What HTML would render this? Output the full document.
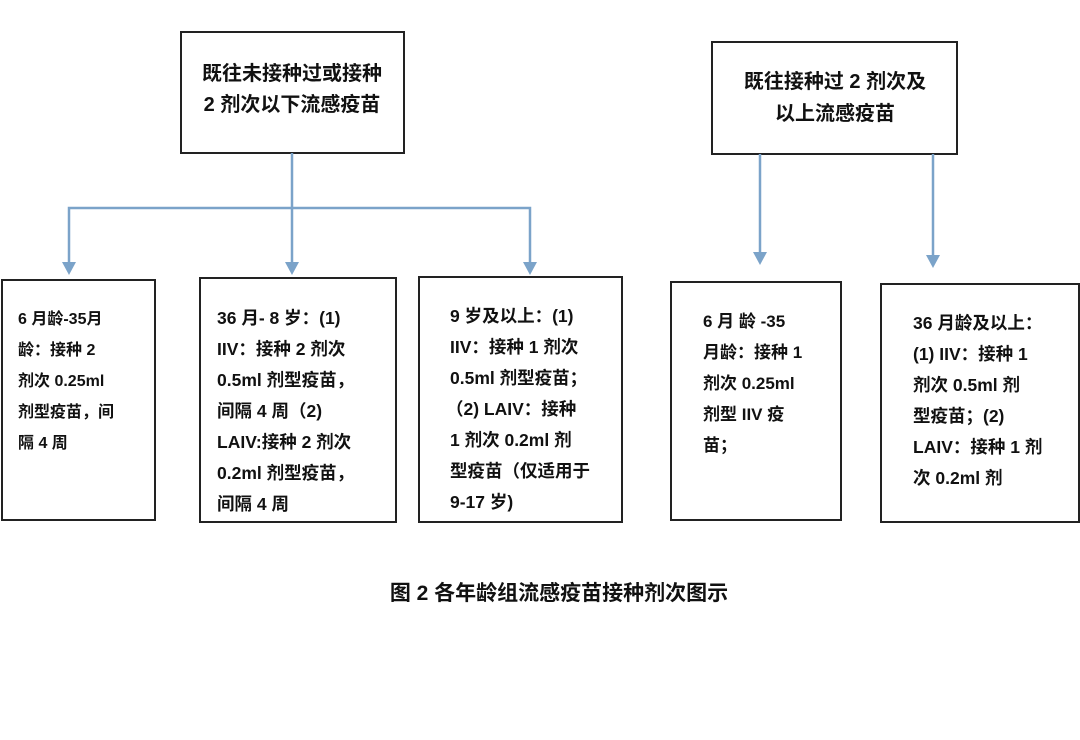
<!DOCTYPE html>
<html><head><meta charset="utf-8"><style>
body{margin:0;background:#fff;}
svg text{font-family:"Liberation Sans","Noto Sans CJK SC",sans-serif;font-weight:bold;font-size:17.5px;fill:#111;}
svg text.s16{font-size:16px;}
svg text.s17{font-size:17px;}
svg text.big{font-size:20px;}
svg text.cap{font-size:21px;}
</style></head><body>
<svg width="1080" height="735" xmlns="http://www.w3.org/2000/svg">
<g fill="none" stroke="#222" stroke-width="2">
<rect x="181" y="32" width="223" height="121"/>
<rect x="712" y="42" width="245" height="112"/>
<rect x="2" y="280" width="153" height="240"/>
<rect x="200" y="278" width="196" height="244"/>
<rect x="419" y="277" width="203" height="245"/>
<rect x="671" y="282" width="170" height="238"/>
<rect x="881" y="284" width="198" height="238"/>
</g>
<g fill="none" stroke="#7ba3c9" stroke-width="2.5">
<path d="M292 153V262M69 262V208H530V262"/>
<path d="M760 154V252M933 154V255"/>
</g>
<g fill="#7ba3c9">
<path d="M62 262h14l-7 13z"/>
<path d="M285 262h14l-7 13z"/>
<path d="M523 262h14l-7 13z"/>
<path d="M753 252h14l-7 13z"/>
<path d="M926 255h14l-7 13z"/>
</g>
<text class="big" x="292" y="80" text-anchor="middle">既往未接种过或接种</text>
<text class="big" x="292" y="111" text-anchor="middle">2 剂次以下流感疫苗</text>
<text class="big" x="835" y="88" text-anchor="middle">既往接种过 2 剂次及</text>
<text class="big" x="835" y="120" text-anchor="middle">以上流感疫苗</text>
<g>
<text class="s16" x="18" y="324">6 月龄-35月</text>
<text class="s16" x="18" y="355">龄：接种 2</text>
<text class="s16" x="18" y="386">剂次 0.25ml</text>
<text class="s16" x="18" y="417">剂型疫苗，间</text>
<text class="s16" x="18" y="448">隔 4 周</text>
</g>
<g>
<text x="217" y="324">36 月- 8 岁：(1)</text>
<text x="217" y="355">IIV：接种 2 剂次</text>
<text x="217" y="386">0.5ml 剂型疫苗，</text>
<text x="217" y="417">间隔 4 周（2)</text>
<text x="217" y="448">LAIV:接种 2 剂次</text>
<text x="217" y="479">0.2ml 剂型疫苗，</text>
<text x="217" y="510">间隔 4 周</text>
</g>
<g>
<text x="450" y="322">9 岁及以上：(1)</text>
<text x="450" y="353">IIV：接种 1 剂次</text>
<text x="450" y="384">0.5ml 剂型疫苗；</text>
<text x="446" y="415">（2) LAIV：接种</text>
<text x="450" y="446">1 剂次 0.2ml 剂</text>
<text x="450" y="477">型疫苗（仅适用于</text>
<text x="450" y="508">9-17 岁)</text>
</g>
<g>
<text class="s17" x="703" y="327">6  月 龄 -35</text>
<text class="s17" x="703" y="358">月龄：接种 1</text>
<text class="s17" x="703" y="389">剂次 0.25ml</text>
<text class="s17" x="703" y="420">剂型 IIV 疫</text>
<text class="s17" x="703" y="451">苗；</text>
</g>
<g>
<text x="913" y="329">36 月龄及以上：</text>
<text x="913" y="360">(1) IIV：接种 1</text>
<text x="913" y="391">剂次 0.5ml 剂</text>
<text x="913" y="422">型疫苗；(2)</text>
<text x="913" y="453">LAIV：接种 1 剂</text>
<text x="913" y="484">次 0.2ml 剂</text>
</g>
<text class="cap" x="559" y="600" text-anchor="middle">图 2 各年龄组流感疫苗接种剂次图示</text>
</svg>
</body></html>
